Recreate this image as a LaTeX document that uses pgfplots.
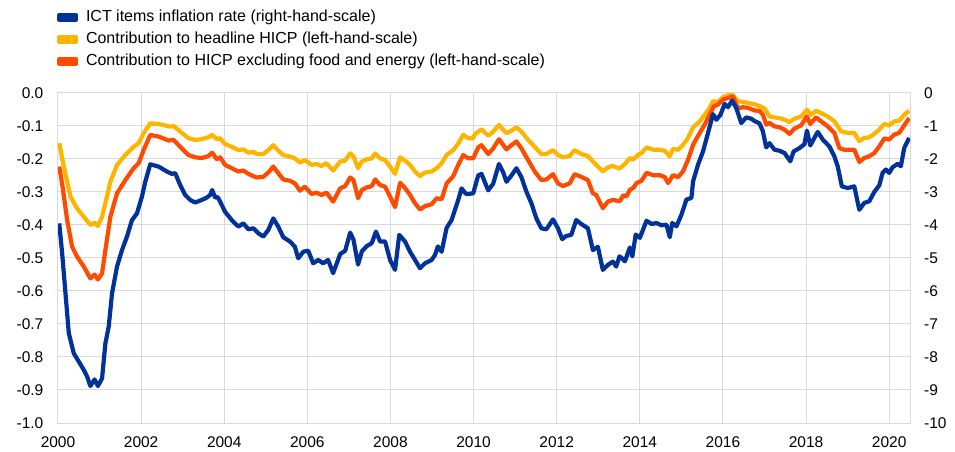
\documentclass[border=0pt]{standalone}
\usepackage{pgfplots}
\pgfplotsset{compat=1.18}
\usepackage{fontspec}
\setmainfont{Liberation Sans}
\definecolor{ecbblue}{RGB}{0,50,153}
\definecolor{ecbyellow}{RGB}{255,180,0}
\definecolor{ecborange}{RGB}{255,75,0}
\definecolor{gridgray}{RGB}{217,217,217}
\begin{document}
\begin{tikzpicture}[font=\fontsize{15.5}{18}\selectfont]
\useasboundingbox (0,0) rectangle (955pt,452pt);
\pgfplotsset{
  common/.style={
    at={(58pt,29pt)}, anchor=south west,
    scale only axis, width=852pt, height=330pt,
    xmin=2000, xmax=2020.5,
    xtick={2000,2002,...,2020},
    major tick length=0pt,
    /pgf/number format/assume math mode=true,
    tick label style={font=\fontsize{15.5}{18}\selectfont},
    line join=round,
  },
}
% left-hand scale
\begin{axis}[common,
  ymin=-1, ymax=0,
  ytick={-1.0,-0.9,-0.8,-0.7,-0.6,-0.5,-0.4,-0.3,-0.2,-0.1,0},
  grid=major, grid style={gridgray, line width=1pt},
  axis line style={gridgray, line width=1pt},
  yticklabel style={/pgf/number format/fixed, /pgf/number format/fixed zerofill, /pgf/number format/precision=1, /tikz/inner sep=0pt, /tikz/xshift=-14.5pt, /tikz/anchor=east},
  xticklabel style={/pgf/number format/1000 sep={}, /tikz/inner sep=0pt, /tikz/yshift=-13pt, /tikz/anchor=north},
]
\addplot[ecbyellow, line width=4.2pt] coordinates {
(2000.03,-0.152) (2000.14,-0.223) (2000.30,-0.314) (2000.46,-0.350) (2000.62,-0.375)
(2000.78,-0.400) (2000.88,-0.393) (2000.96,-0.403) (2001.06,-0.375) (2001.14,-0.334)
(2001.26,-0.269) (2001.42,-0.218) (2001.62,-0.188) (2001.82,-0.163) (2001.94,-0.152)
(2002.06,-0.122) (2002.22,-0.092) (2002.42,-0.094) (2002.70,-0.102) (2002.78,-0.100)
(2002.94,-0.117) (2003.14,-0.137) (2003.30,-0.142) (2003.46,-0.140) (2003.62,-0.134)
(2003.71,-0.127) (2003.82,-0.140) (2003.90,-0.137) (2004.02,-0.155) (2004.18,-0.163)
(2004.34,-0.173) (2004.46,-0.171) (2004.58,-0.181) (2004.70,-0.178) (2004.78,-0.185)
(2004.94,-0.185) (2005.06,-0.173) (2005.18,-0.158) (2005.30,-0.175) (2005.42,-0.188)
(2005.58,-0.193) (2005.70,-0.198) (2005.82,-0.211) (2005.94,-0.203) (2006.10,-0.218)
(2006.22,-0.215) (2006.34,-0.221) (2006.46,-0.213) (2006.62,-0.235) (2006.79,-0.208)
(2006.91,-0.205) (2007.03,-0.183) (2007.11,-0.193) (2007.22,-0.228) (2007.31,-0.208)
(2007.43,-0.201) (2007.55,-0.198) (2007.63,-0.183) (2007.75,-0.198) (2007.87,-0.203)
(2007.99,-0.223) (2008.11,-0.245) (2008.23,-0.195) (2008.35,-0.205) (2008.47,-0.218)
(2008.59,-0.238) (2008.71,-0.252) (2008.83,-0.241) (2008.99,-0.238) (2009.11,-0.228)
(2009.23,-0.213) (2009.35,-0.188) (2009.51,-0.173) (2009.63,-0.153) (2009.75,-0.127)
(2009.87,-0.137) (2009.99,-0.137) (2010.03,-0.125) (2010.19,-0.110) (2010.35,-0.130)
(2010.47,-0.117) (2010.61,-0.097) (2010.79,-0.122) (2010.91,-0.114) (2011.03,-0.104)
(2011.15,-0.117) (2011.31,-0.142) (2011.47,-0.163) (2011.63,-0.185) (2011.75,-0.185)
(2011.91,-0.173) (2012.03,-0.188) (2012.15,-0.195) (2012.31,-0.191) (2012.43,-0.173)
(2012.59,-0.185) (2012.75,-0.191) (2012.91,-0.213) (2013.11,-0.238) (2013.23,-0.225)
(2013.35,-0.221) (2013.51,-0.229) (2013.64,-0.215) (2013.76,-0.197) (2013.84,-0.202)
(2013.96,-0.187) (2014.04,-0.182) (2014.16,-0.165) (2014.32,-0.172) (2014.48,-0.172)
(2014.60,-0.175) (2014.72,-0.192) (2014.80,-0.169) (2014.92,-0.172) (2015.04,-0.157)
(2015.16,-0.136) (2015.28,-0.104) (2015.44,-0.086) (2015.56,-0.066) (2015.68,-0.045)
(2015.76,-0.025) (2015.88,-0.027) (2016.00,-0.013) (2016.12,-0.007) (2016.24,-0.007)
(2016.36,-0.025) (2016.48,-0.027) (2016.60,-0.030) (2016.76,-0.034) (2016.88,-0.040)
(2017.00,-0.047) (2017.12,-0.071) (2017.24,-0.074) (2017.36,-0.076) (2017.48,-0.081)
(2017.60,-0.088) (2017.72,-0.078) (2017.88,-0.071) (2018.02,-0.051) (2018.12,-0.066)
(2018.24,-0.054) (2018.36,-0.061) (2018.52,-0.071) (2018.68,-0.086) (2018.84,-0.116)
(2019.00,-0.121) (2019.16,-0.121) (2019.28,-0.146) (2019.40,-0.136) (2019.52,-0.134)
(2019.64,-0.124) (2019.76,-0.111) (2019.88,-0.094) (2020.00,-0.098) (2020.12,-0.086)
(2020.24,-0.084) (2020.36,-0.066) (2020.48,-0.054)
};
\addplot[ecborange, line width=4.2pt] coordinates {
(2000.03,-0.223) (2000.11,-0.284) (2000.22,-0.385) (2000.34,-0.466) (2000.46,-0.496)
(2000.62,-0.526) (2000.78,-0.562) (2000.88,-0.550) (2000.96,-0.565) (2001.06,-0.547)
(2001.14,-0.476) (2001.26,-0.375) (2001.42,-0.304) (2001.62,-0.264) (2001.82,-0.228)
(2001.94,-0.213) (2002.06,-0.173) (2002.22,-0.127) (2002.42,-0.132) (2002.66,-0.144)
(2002.78,-0.142) (2002.94,-0.163) (2003.14,-0.188) (2003.30,-0.195) (2003.46,-0.197)
(2003.62,-0.191) (2003.71,-0.181) (2003.82,-0.201) (2003.90,-0.195) (2004.02,-0.218)
(2004.18,-0.228) (2004.34,-0.238) (2004.46,-0.235) (2004.58,-0.245) (2004.70,-0.252)
(2004.78,-0.256) (2004.94,-0.254) (2005.06,-0.241) (2005.18,-0.223) (2005.30,-0.243)
(2005.42,-0.262) (2005.58,-0.266) (2005.70,-0.274) (2005.82,-0.296) (2005.94,-0.284)
(2006.10,-0.306) (2006.22,-0.302) (2006.34,-0.309) (2006.46,-0.302) (2006.62,-0.329)
(2006.79,-0.289) (2006.91,-0.282) (2007.03,-0.256) (2007.11,-0.264) (2007.22,-0.319)
(2007.31,-0.294) (2007.43,-0.286) (2007.55,-0.282) (2007.63,-0.262) (2007.75,-0.279)
(2007.87,-0.284) (2007.99,-0.314) (2008.11,-0.346) (2008.23,-0.272) (2008.35,-0.288)
(2008.47,-0.309) (2008.59,-0.334) (2008.71,-0.353) (2008.83,-0.343) (2008.99,-0.337)
(2009.11,-0.319) (2009.23,-0.322) (2009.35,-0.274) (2009.51,-0.252) (2009.63,-0.218)
(2009.75,-0.188) (2009.87,-0.198) (2009.99,-0.198) (2010.11,-0.165) (2010.19,-0.158)
(2010.35,-0.185) (2010.47,-0.168) (2010.61,-0.140) (2010.79,-0.171) (2010.91,-0.158)
(2011.03,-0.147) (2011.15,-0.168) (2011.31,-0.203) (2011.47,-0.238) (2011.63,-0.264)
(2011.75,-0.262) (2011.91,-0.246) (2012.03,-0.274) (2012.15,-0.282) (2012.31,-0.274)
(2012.43,-0.246) (2012.59,-0.254) (2012.75,-0.264) (2012.87,-0.304) (2012.95,-0.309)
(2013.11,-0.349) (2013.23,-0.329) (2013.35,-0.324) (2013.52,-0.328) (2013.60,-0.310)
(2013.68,-0.313) (2013.76,-0.293) (2013.84,-0.288) (2013.92,-0.273) (2014.04,-0.266)
(2014.16,-0.242) (2014.32,-0.249) (2014.48,-0.249) (2014.60,-0.255) (2014.68,-0.273)
(2014.80,-0.249) (2014.92,-0.255) (2015.04,-0.237) (2015.16,-0.202) (2015.28,-0.157)
(2015.44,-0.121) (2015.56,-0.096) (2015.68,-0.066) (2015.78,-0.040) (2015.88,-0.035)
(2016.00,-0.020) (2016.12,-0.015) (2016.24,-0.010) (2016.36,-0.047) (2016.48,-0.043)
(2016.60,-0.045) (2016.76,-0.053) (2016.88,-0.054) (2016.96,-0.066) (2017.04,-0.096)
(2017.12,-0.091) (2017.24,-0.101) (2017.36,-0.104) (2017.48,-0.111) (2017.60,-0.124)
(2017.72,-0.108) (2017.88,-0.098) (2018.02,-0.071) (2018.10,-0.094) (2018.24,-0.074)
(2018.36,-0.086) (2018.52,-0.101) (2018.68,-0.121) (2018.80,-0.167) (2018.92,-0.172)
(2019.16,-0.172) (2019.28,-0.209) (2019.40,-0.197) (2019.52,-0.192) (2019.64,-0.182)
(2019.76,-0.162) (2019.88,-0.138) (2020.00,-0.141) (2020.12,-0.126) (2020.24,-0.121)
(2020.32,-0.106) (2020.48,-0.076)
};
\end{axis}
% right-hand scale
\begin{axis}[common,
  ymin=-10, ymax=0,
  ytick={-10,-9,...,0},
  axis y line*=right, axis x line=none,
  axis line style={gridgray, line width=1pt},
  yticklabel style={/tikz/inner sep=0pt, /tikz/xshift=14pt, /tikz/anchor=west},
  legend style={at={(axis description cs:-0.0008,1.2515)}, anchor=north west,
    draw=none, fill=none, inner sep=0pt, outer sep=0pt, row sep=7.6pt,
    font=\fontsize{16}{19}\selectfont,
    nodes={inner sep=0pt, text height=11pt, text depth=3.5pt},
    /tikz/every odd column/.append style={column sep=8pt}},
  legend cell align=left,
  legend image code/.code={\fill[#1] (0pt,-2.5pt) rectangle (16.5pt,2.5pt);},
]
\addplot[ecbblue, line width=4.2pt] coordinates {
(2000.03,-3.95) (2000.10,-4.86) (2000.18,-6.07) (2000.26,-7.28) (2000.38,-7.89)
(2000.50,-8.14) (2000.62,-8.39) (2000.70,-8.59) (2000.78,-8.88) (2000.88,-8.68)
(2000.96,-8.88) (2001.06,-8.65) (2001.14,-7.59) (2001.22,-7.08) (2001.30,-6.07)
(2001.42,-5.26) (2001.54,-4.76) (2001.66,-4.35) (2001.78,-3.85) (2001.90,-3.65)
(2002.02,-3.14) (2002.10,-2.69) (2002.22,-2.16) (2002.42,-2.23) (2002.62,-2.38)
(2002.74,-2.45) (2002.82,-2.43) (2002.94,-2.79) (2003.06,-3.09) (2003.18,-3.24)
(2003.30,-3.32) (2003.46,-3.24) (2003.58,-3.17) (2003.66,-3.09) (2003.71,-2.94)
(2003.78,-3.17) (2003.84,-3.15) (2003.90,-3.29) (2004.02,-3.60) (2004.18,-3.85)
(2004.34,-4.05) (2004.46,-3.95) (2004.58,-4.13) (2004.70,-4.10) (2004.82,-4.25)
(2004.94,-4.35) (2005.06,-4.15) (2005.18,-3.80) (2005.30,-4.05) (2005.42,-4.37)
(2005.58,-4.50) (2005.70,-4.66) (2005.78,-5.01) (2005.90,-4.81) (2006.02,-4.78)
(2006.14,-5.16) (2006.26,-5.06) (2006.38,-5.16) (2006.50,-5.06) (2006.62,-5.46)
(2006.79,-4.88) (2006.91,-4.78) (2007.03,-4.23) (2007.11,-4.45) (2007.22,-5.20)
(2007.31,-4.80) (2007.43,-4.64) (2007.55,-4.55) (2007.65,-4.20) (2007.75,-4.50)
(2007.87,-4.50) (2007.99,-5.06) (2008.11,-5.36) (2008.21,-4.30) (2008.35,-4.50)
(2008.47,-4.81) (2008.59,-5.06) (2008.71,-5.31) (2008.83,-5.16) (2008.99,-5.06)
(2009.07,-4.91) (2009.14,-4.65) (2009.23,-4.81) (2009.35,-4.09) (2009.47,-3.85)
(2009.63,-3.24) (2009.71,-2.89) (2009.81,-3.05) (2009.87,-3.06) (2009.99,-3.04)
(2010.11,-2.50) (2010.19,-2.45) (2010.35,-2.95) (2010.47,-2.75) (2010.61,-2.15)
(2010.71,-2.40) (2010.79,-2.69) (2010.91,-2.50) (2011.03,-2.28) (2011.15,-2.55)
(2011.27,-2.99) (2011.39,-3.34) (2011.51,-3.80) (2011.63,-4.10) (2011.75,-4.13)
(2011.91,-3.83) (2012.03,-4.10) (2012.13,-4.43) (2012.23,-4.33) (2012.35,-4.30)
(2012.47,-3.85) (2012.59,-3.97) (2012.75,-4.10) (2012.87,-4.76) (2012.99,-4.66)
(2013.11,-5.36) (2013.23,-5.21) (2013.35,-5.11) (2013.43,-5.26) (2013.51,-4.95)
(2013.56,-5.00) (2013.64,-5.10) (2013.76,-4.68) (2013.82,-4.95) (2013.90,-4.29)
(2014.00,-4.39) (2014.16,-3.87) (2014.28,-3.97) (2014.40,-3.94) (2014.52,-4.01)
(2014.64,-3.99) (2014.72,-4.37) (2014.78,-3.94) (2014.88,-4.04) (2015.00,-3.69)
(2015.12,-3.23) (2015.24,-3.18) (2015.28,-2.68) (2015.40,-2.17) (2015.52,-1.77)
(2015.64,-1.21) (2015.76,-0.64) (2015.84,-0.81) (2015.94,-0.66) (2016.04,-0.33)
(2016.12,-0.43) (2016.22,-0.23) (2016.32,-0.46) (2016.44,-0.91) (2016.56,-0.74)
(2016.68,-0.78) (2016.76,-0.85) (2016.88,-0.92) (2016.96,-1.16) (2017.04,-1.65)
(2017.12,-1.52) (2017.24,-1.72) (2017.36,-1.75) (2017.48,-1.82) (2017.62,-2.07)
(2017.70,-1.77) (2017.84,-1.67) (2017.96,-1.55) (2018.02,-1.14) (2018.10,-1.59)
(2018.20,-1.36) (2018.28,-1.18) (2018.40,-1.41) (2018.56,-1.62) (2018.68,-1.92)
(2018.76,-2.22) (2018.86,-2.83) (2019.00,-2.88) (2019.16,-2.83) (2019.28,-3.54)
(2019.40,-3.33) (2019.52,-3.28) (2019.64,-3.00) (2019.76,-2.80) (2019.84,-2.42)
(2019.92,-2.32) (2020.00,-2.42) (2020.08,-2.25) (2020.20,-2.15) (2020.28,-2.22)
(2020.36,-1.67) (2020.48,-1.36)
};
\addlegendentry{ICT items inflation rate (right-hand-scale)}
\addlegendimage{ecbyellow, line width=4.2pt}
\addlegendentry{Contribution to headline HICP (left-hand-scale)}
\addlegendimage{ecborange, line width=4.2pt}
\addlegendentry{Contribution to HICP excluding food and energy (left-hand-scale)}
\end{axis}
\end{tikzpicture}
\end{document}
